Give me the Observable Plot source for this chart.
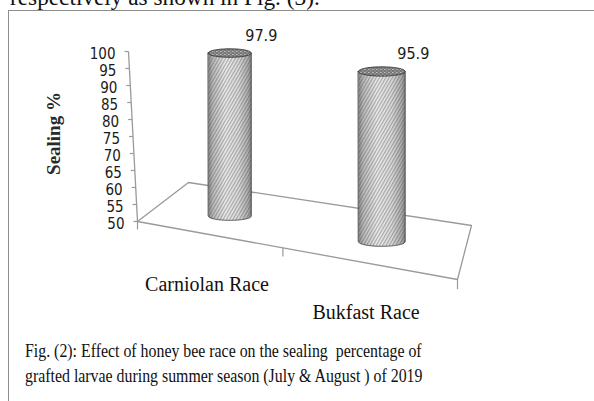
<!DOCTYPE html>
<html><head><meta charset="utf-8">
<script src="https://cdn.jsdelivr.net/npm/d3@7"></script>
<script src="https://cdn.jsdelivr.net/npm/@observablehq/plot@0.6"></script>
<style>
html,body{margin:0;padding:0;background:#fff;width:594px;height:401px;overflow:hidden;position:relative;}
#cut{position:absolute;left:10px;top:-15px;font:24px "Liberation Serif","Times New Roman",serif;line-height:24px;white-space:nowrap;color:#111;transform:scaleX(0.97);transform-origin:0 0;}
#chart{position:absolute;left:0;top:0;}
#frame{position:absolute;left:8px;top:10px;width:620px;height:420px;border-left:1.5px solid #8e8e8e;border-top:1.5px solid #8e8e8e;pointer-events:none;}
#caption{position:absolute;left:25px;top:338px;font:19px "Liberation Serif","Times New Roman",serif;line-height:25px;color:#111;white-space:pre;}
#caption div{transform:scaleX(0.835);transform-origin:0 0;}
</style></head>
<body>
<div id="cut"></div>
<div id="chart"></div>
<div id="frame"></div>
<div id="caption"></div>
<script>
// ---- data ----
const categories = ["Carniolan Race", "Bukfast Race"];
const values = [97.9, 95.9];
const yTicks = [50, 55, 60, 65, 70, 75, 80, 85, 90, 95, 100];
const yTitle = "Sealing %";
const captionLines = [
  "Fig. (2): Effect of honey bee race on the sealing  percentage of",
  "grafted larvae during summer season (July & August ) of 2019"
];
const pageLine = "respectively as shown in Fig. (3).";

// ---- layout (3D floor projection) ----
const W = 594, H = 330;
const corners = {A: [137, 221], D: [457, 279], C: [471, 225], B: [188, 182]};
function makeH(P0, P1, P2, P3) {
  const [x0, y0] = P0, [x1, y1] = P1, [x2, y2] = P2, [x3, y3] = P3;
  const dx1 = x1 - x2, dy1 = y1 - y2, dx2 = x3 - x2, dy2 = y3 - y2;
  const dx3 = x0 - x1 + x2 - x3, dy3 = y0 - y1 + y2 - y3;
  const den = dx1 * dy2 - dy1 * dx2;
  const g = (dx3 * dy2 - dy3 * dx2) / den, h = (dx1 * dy3 - dy1 * dx3) / den;
  const a = x1 - x0 + g * x1, b = x3 - x0 + h * x3, c = x0;
  const d = y1 - y0 + g * y1, e = y3 - y0 + h * y3, f = y0;
  return (u, w) => { const q = g * u + h * w + 1; return [(a * u + b * w + c) / q, (d * u + e * w + f) / q, 1 / q]; };
}
const proj = makeH(corners.A, corners.D, corners.C, corners.B);

const vScale = Plot.scale({y: {type: "linear", domain: [50, 100], range: [0, 170]}});
const cScale = Plot.scale({x: {type: "band", domain: categories, range: [0, 1], padding: 0}});
const axisSlant = 9 / 170;
const axisPt = v => { const h = vScale.apply(v); return [corners.A[0] - h * axisSlant, corners.A[1] - h]; };

const depth = 0.4, shift = 0.015, rx0 = 21.7, ry0 = 4.3;
const cyl = categories.map((c, i) => {
  const u = cScale.apply(c) + cScale.bandwidth / 2 + shift;
  const [x, y, s] = proj(u, depth);
  return {cat: c, value: values[i], cx: x, base: y, top: y - vScale.apply(values[i]) * s - 2, rx: rx0 * s, ry: ry0 * s};
});
const N = 48;
const body = [], topE = [];
for (const k of cyl) {
  for (let j = 0; j <= N; j++) {
    const t = -1 + 2 * j / N, r = Math.sqrt(Math.max(0, 1 - t * t));
    body.push({cat: k.cat, x: k.cx + k.rx * t, y1: k.top, y2: k.base + k.ry * r});
    topE.push({cat: k.cat, x: k.cx + k.rx * t, y1: k.top - k.ry * r, y2: k.top + k.ry * r});
  }
}
const floorPoly = [[0, 0], [1, 0], [1, 1], [0, 1], [0, 0]].map(([u, w]) => proj(u, w));
const bounds = [...categories.map(c => cScale.apply(c)), 1].map(u => { const p = proj(u, 0); return {x: p[0], y: p[1], s: p[2]}; });
const labelPts = categories.map(c => { const p = proj(cScale.apply(c) + cScale.bandwidth / 2, 0); return {cat: c, x: p[0], y: p[1]}; });

const sansN = "'Liberation Sans Narrow','DejaVu Sans Condensed','Arial Narrow',sans-serif";
const serif = "'Liberation Serif','Times New Roman',serif";
const gray = "#9a9a9a";

const svg = Plot.plot({
  width: W, height: H, margin: 0,
  x: {type: "identity", axis: null}, y: {type: "identity", axis: null},
  style: {background: "transparent", overflow: "visible"},
  marks: [
    Plot.line(floorPoly, {x: d => d[0], y: d => d[1], stroke: gray, strokeWidth: 1.3}),
    Plot.link(bounds, {x1: "x", y1: "y", x2: "x", y2: d => d.y + 8 * d.s, stroke: gray, strokeWidth: 1.2}),
    Plot.link([50], {x1: () => axisPt(50)[0], y1: () => axisPt(50)[1], x2: () => axisPt(100)[0], y2: () => axisPt(100)[1], stroke: gray, strokeWidth: 1.3}),
    Plot.link(yTicks, {x1: v => axisPt(v)[0] - 4, y1: v => axisPt(v)[1], x2: v => axisPt(v)[0], y2: v => axisPt(v)[1], stroke: gray, strokeWidth: 1.2}),
    Plot.text(yTicks, {x: v => axisPt(v)[0], y: v => axisPt(v)[1], dx: -13, dy: 3, text: v => String(v), textAnchor: "end", fontFamily: sansN, fontSize: 15, fill: "#1a1a1a"}),
    Plot.text([yTitle], {x: () => 53, y: () => 133, text: d => d, rotate: -90, fontFamily: serif, fontSize: 19, fontWeight: "bold", fill: "#2a2a2a"}),
    Plot.text(labelPts, {x: "x", y: "y", dy: 50, text: "cat", fontFamily: serif, fontSize: 20, fill: "#111"}),
    Plot.areaY(body, {x: "x", y1: "y1", y2: "y2", z: "cat", fill: "url(#cylGrad)", curve: "linear"}),
    Plot.areaY(body, {x: "x", y1: "y1", y2: "y2", z: "cat", fill: "url(#hatch)", stroke: "#4a4a4a", strokeWidth: 0.9, curve: "linear"}),
    Plot.areaY(topE, {x: "x", y1: "y1", y2: "y2", z: "cat", fill: "url(#speckle)", stroke: "#3a3a3a", strokeWidth: 1, curve: "linear"}),
    Plot.text(cyl, {x: "cx", y: "top", dx: 31, dy: -18, text: d => d.value.toFixed(1), fontFamily: sansN, fontSize: 16, fill: "#1a1a1a"})
  ]
});

const defs = d3.select(svg).insert("defs", ":first-child");
const grad = defs.append("linearGradient").attr("id", "cylGrad").attr("x1", 0).attr("x2", 1).attr("y1", 0).attr("y2", 0);
[[0, "#8a8a8a"], [0.1, "#bdbdbd"], [0.4, "#efefef"], [0.7, "#e0e0e0"], [0.92, "#b0b0b0"], [1, "#858585"]]
  .forEach(([o, c]) => grad.append("stop").attr("offset", o).attr("stop-color", c));
const hatch = defs.append("pattern").attr("id", "hatch").attr("width", 2.8).attr("height", 2.8)
  .attr("patternUnits", "userSpaceOnUse").attr("patternTransform", "rotate(30)");
hatch.append("line").attr("x1", 0.7).attr("y1", 0).attr("x2", 0.7).attr("y2", 2.8)
  .attr("stroke", "#404040").attr("stroke-width", 0.9).attr("stroke-opacity", 0.55);
const sp = defs.append("pattern").attr("id", "speckle").attr("width", 4).attr("height", 3).attr("patternUnits", "userSpaceOnUse");
sp.append("rect").attr("width", 4).attr("height", 3).attr("fill", "#777");
sp.append("rect").attr("x", 0).attr("y", 0).attr("width", 1.6).attr("height", 1).attr("fill", "#c0c0c0");
sp.append("rect").attr("x", 2).attr("y", 1.5).attr("width", 1.6).attr("height", 1).attr("fill", "#a8a8a8");

document.getElementById("chart").appendChild(svg);
document.getElementById("cut").textContent = pageLine;
const cap = document.getElementById("caption");
for (const line of captionLines) { const dv = document.createElement("div"); dv.textContent = line; cap.appendChild(dv); }
</script>
</body></html>
